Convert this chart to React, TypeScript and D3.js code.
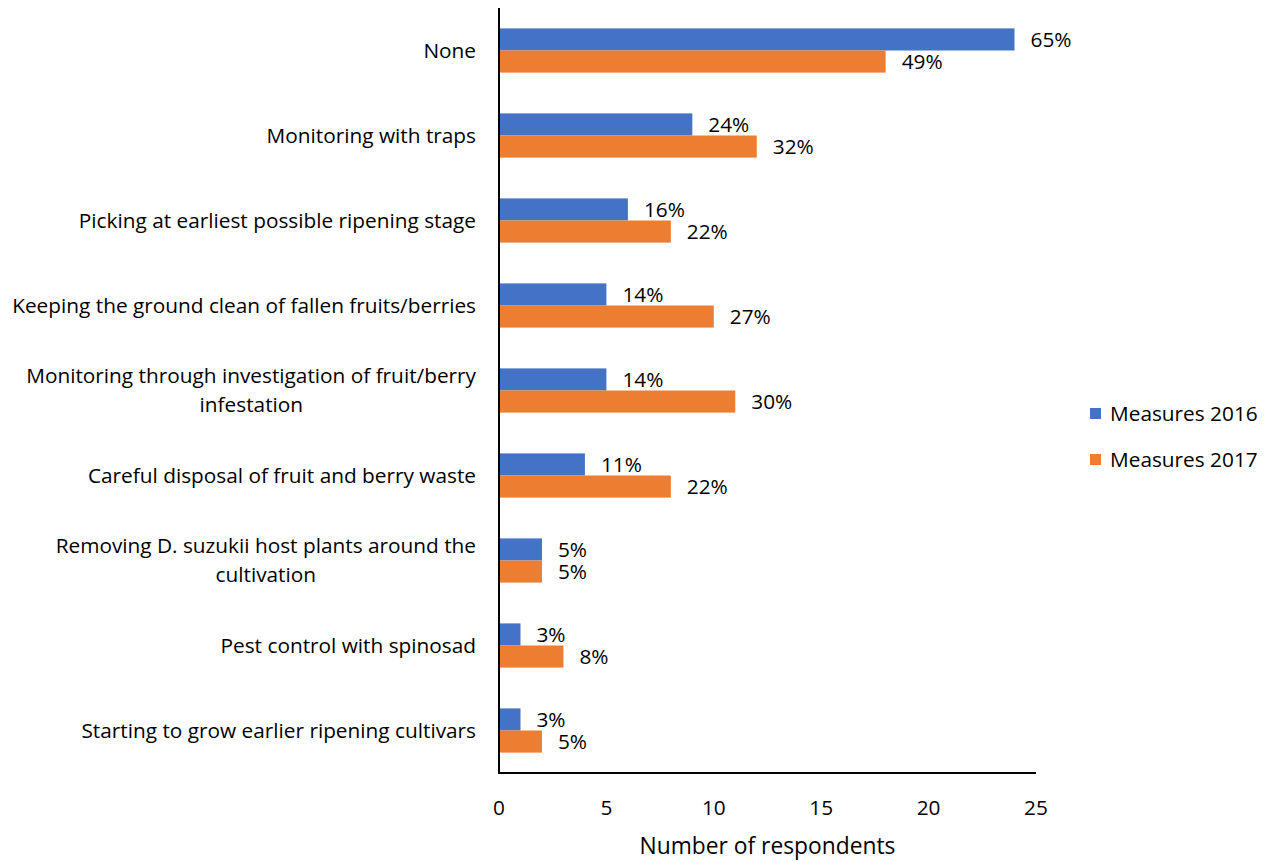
import React from "react";
import * as d3 from "d3";

const categories: string[][] = [
  ["None"],
  ["Monitoring with traps"],
  ["Picking at earliest possible ripening stage"],
  ["Keeping the ground clean of fallen fruits/berries"],
  ["Monitoring through investigation of fruit/berry", "infestation"],
  ["Careful disposal of fruit and berry waste"],
  ["Removing D. suzukii host plants around the", "cultivation"],
  ["Pest control with spinosad"],
  ["Starting to grow earlier ripening cultivars"],
];
const values2016 = [24, 9, 6, 5, 5, 4, 2, 1, 1];
const values2017 = [18, 12, 8, 10, 11, 8, 2, 3, 2];
const labels2016 = ["65%", "24%", "16%", "14%", "14%", "11%", "5%", "3%", "3%"];
const labels2017 = ["49%", "32%", "22%", "27%", "30%", "22%", "5%", "8%", "5%"];
const seriesNames = ["Measures 2016", "Measures 2017"];
const colors = ["#4472C4", "#ED7D31"];
const xTicks = [0, 5, 10, 15, 20, 25];

const FONT = "'Open Sans', 'Noto Sans', sans-serif";

export default function App() {
  const W = 1274, H = 861;
  const left = 499, right = 1036, top = 8, bottom = 773;
  const x = d3.scaleLinear().domain([0, 25]).range([left, right]);
  const y = d3.scaleBand<number>().domain(d3.range(categories.length)).range([top, bottom]).paddingInner(0.48).paddingOuter(0.24);
  const bh = y.bandwidth() / 2;
  const fs = 20.8;
  return (
    <svg width={W} height={H} style={{ position: "absolute", left: 0, top: 0, background: "#fff" }}>
      {categories.map((c, i) => {
        const y0 = y(i)!;
        const cy = y0 + bh;
        return (
          <g key={i}>
            <rect x={x(0)} y={y0} width={x(values2016[i]) - x(0)} height={bh} fill={colors[0]} />
            <rect x={x(0)} y={y0 + bh} width={x(values2017[i]) - x(0)} height={bh} fill={colors[1]} />
            <text x={x(values2016[i]) + 16} y={y0 + bh / 2} dy="0.35em" fontFamily={FONT} fontSize={fs} fill="#000">{labels2016[i]}</text>
            <text x={x(values2017[i]) + 16} y={y0 + bh * 1.5} dy="0.35em" fontFamily={FONT} fontSize={fs} fill="#000">{labels2017[i]}</text>
            {c.length === 1 ? (
              <text x={476} y={cy} dy="0.35em" textAnchor="end" fontFamily={FONT} fontSize={fs} fill="#000">{c[0]}</text>
            ) : (
              <WrappedLabel lines={c} cy={cy} fs={fs} />
            )}
          </g>
        );
      })}
      <line x1={left} x2={left} y1={top} y2={bottom + 1} stroke="#000" strokeWidth={2} />
      <line x1={left} x2={right} y1={bottom} y2={bottom} stroke="#000" strokeWidth={2} />
      {xTicks.map((t) => (
        <text key={t} x={x(t)} y={808} dy="0.35em" textAnchor="middle" fontFamily={FONT} fontSize={fs} fill="#000">{t}</text>
      ))}
      <text x={(left + right) / 2} y={846} dy="0.35em" textAnchor="middle" fontFamily={FONT} fontSize={22.8} fill="#000">Number of respondents</text>
      {seriesNames.map((s, i) => (
        <g key={s}>
          <rect x={1090} y={408 + i * 46} width={11} height={11} fill={colors[i]} />
          <text x={1110} y={414 + i * 46} dy="0.35em" fontFamily={FONT} fontSize={fs} fill="#000">{s}</text>
        </g>
      ))}
    </svg>
  );
}

function WrappedLabel({ lines, cy, fs }: { lines: string[]; cy: number; fs: number }) {
  const ref = React.useRef<SVGGElement>(null);
  const [cx, setCx] = React.useState<number | null>(null);
  React.useEffect(() => {
    if (!ref.current) return;
    const first = ref.current.querySelector("text.first") as SVGTextElement | null;
    if (first) {
      const b = first.getBBox();
      setCx(b.x + b.width / 2);
    }
  }, []);
  const lh = 29;
  const y0 = cy - ((lines.length - 1) * lh) / 2;
  return (
    <g ref={ref}>
      <text className="first" x={476} y={y0} dy="0.35em" textAnchor="end" fontFamily={FONT} fontSize={fs} fill="#000">{lines[0]}</text>
      {lines.slice(1).map((l, k) => (
        <text key={k} x={cx ?? 476} y={y0 + (k + 1) * lh} dy="0.35em" textAnchor={cx == null ? "end" : "middle"} fontFamily={FONT} fontSize={fs} fill="#000">{l}</text>
      ))}
    </g>
  );
}
